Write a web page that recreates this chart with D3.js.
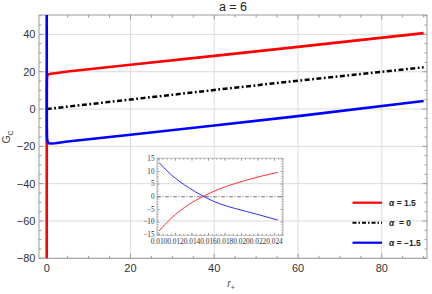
<!DOCTYPE html>
<meta charset="utf-8">
<style>
body { margin: 0; background: #fff; }
text { font-family: "Liberation Sans", Arial, sans-serif; }
.grid line { stroke: #dcdcdc; stroke-width: 1px; }
.frame { fill: none; stroke: #999; stroke-width: 1px; }
.tick line { stroke: #999; stroke-width: 1px; }
.inset text { font-family: "Liberation Serif", "Times New Roman", serif; }
</style>
<svg></svg>
<script src="https://cdn.jsdelivr.net/npm/d3@7"></script>
<script>

// main plot, r+ from 0 to 90
var rMain    = [0.004, 0.006, 0.01, 0.0115, 0.0136, 0.0152, 0.0172, 0.0192, 0.022, 0.0244, 0.05, 0.1, 0.2, 0.5, 1, 2, 5, 10, 20, 40, 60, 90];
var gPlus    = [-85, -40, -13.5, -8.4, -3.1, -0.1, 2.9, 5.2, 7.8, 9.6, 15, 17.2, 18.2, 18.7, 18.9, 19.2, 20.1, 21.3, 23.7, 28.5, 33.3, 40.7];
var gMinus   = [90, 40, 13.5, 8.6, 3.6, 0.5, -2.6, -4.6, -7.0, -9.2, -14, -16.2, -17.5, -18.3, -18.5, -18.3, -17.4, -16.2, -13.8, -8.8, -3.8, 4.3];
var rZero    = [0, 20, 40, 60, 90];
var gZero    = [0, 5.1, 10.2, 15.2, 22.4];

// inset, small r+
var rInset     = [0.010, 0.0115, 0.0136, 0.0152, 0.0172, 0.0192, 0.022, 0.0244];
var gInsetPlus = [-13.5, -8.4, -3.1, -0.1, 2.9, 5.2, 7.8, 9.6];
var gInsetMin  = [13.5, 8.6, 3.6, 0.5, -2.6, -4.6, -7.0, -9.2];
var rInsetZero = [0.00976, 0.02503];
var gInsetZero = [0, 0];

var xTicks = [0, 20, 40, 60, 80];
var yTicks = [-80, -60, -40, -20, 0, 20, 40];
var insetXTicks = [0.010, 0.012, 0.014, 0.016, 0.018, 0.020, 0.022, 0.024];
var insetYTicks = [-15, -10, -5, 0, 5, 10, 15];

var legendLabels = ["1.5", "0", "\u22121.5"];

var width = 432, height = 294;

var svg = d3.select("svg")
    .attr("width", width)
    .attr("height", height);

var x = d3.scaleLinear().domain([-1.84, 90.8]).range([39, 427]);
var y = d3.scaleLinear().domain([-80, 50.4]).range([258.3, 15]);

var defs = svg.append("defs");
defs.append("clipPath").attr("id", "clipMain")
  .append("rect")
    .attr("x", x.range()[0]).attr("y", y.range()[1])
    .attr("width", x.range()[1] - x.range()[0])
    .attr("height", y.range()[0] - y.range()[1]);

// grid
var grid = svg.append("g").attr("class", "grid");
grid.selectAll(".gx").data(xTicks).enter().append("line")
    .attr("x1", function(d) { return x(d); }).attr("x2", function(d) { return x(d); })
    .attr("y1", y.range()[0]).attr("y2", y.range()[1]);
grid.selectAll(".gy").data(yTicks).enter().append("line")
    .attr("y1", function(d) { return y(d); }).attr("y2", function(d) { return y(d); })
    .attr("x1", x.range()[0]).attr("x2", x.range()[1]);

// frame ticks drawn inward on all four sides
function frameTicks(g, xs, ys, majX, minX, majY, minY, len, minLen) {
  var x0 = xs.range()[0], x1 = xs.range()[1], y0 = ys.range()[0], y1 = ys.range()[1];
  var t = g.append("g").attr("class", "tick");
  function xt(vals, l) {
    vals.forEach(function(v) {
      var px = xs(v);
      if (px < x0 - 0.1 || px > x1 + 0.1) return;
      t.append("line").attr("x1", px).attr("x2", px).attr("y1", y0).attr("y2", y0 - l);
      t.append("line").attr("x1", px).attr("x2", px).attr("y1", y1).attr("y2", y1 + l);
    });
  }
  function yt(vals, l) {
    vals.forEach(function(v) {
      var py = ys(v);
      if (py > y0 + 0.1 || py < y1 - 0.1) return;
      t.append("line").attr("y1", py).attr("y2", py).attr("x1", x0).attr("x2", x0 + l);
      t.append("line").attr("y1", py).attr("y2", py).attr("x1", x1).attr("x2", x1 - l);
    });
  }
  xt(majX, len); xt(minX, minLen); yt(majY, len); yt(minY, minLen);
}

frameTicks(svg, x, y, xTicks, d3.range(5, 95, 5).filter(function(d) { return d % 20; }),
    yTicks, d3.range(-75, 55, 5).filter(function(d) { return d % 20; }), 4.5, 2.5);

svg.append("rect").attr("class", "frame")
    .attr("x", x.range()[0]).attr("y", y.range()[1])
    .attr("width", x.range()[1] - x.range()[0])
    .attr("height", y.range()[0] - y.range()[1]);

// tick labels
svg.append("g").selectAll("text").data(xTicks).enter().append("text")
    .attr("x", function(d) { return x(d); })
    .attr("y", 272)
    .attr("text-anchor", "middle")
    .attr("font-size", 11)
    .attr("fill", "#333")
    .text(function(d) { return d; });

svg.append("g").selectAll("text").data(yTicks).enter().append("text")
    .attr("x", 35.5)
    .attr("y", function(d) { return y(d) + 4; })
    .attr("text-anchor", "end")
    .attr("font-size", 11)
    .attr("fill", "#333")
    .text(function(d) { return d < 0 ? "\u2212" + (-d) : d; });

// title and axis labels
svg.append("text").attr("x", 233).attr("y", 11).attr("text-anchor", "middle")
    .attr("font-size", 12.5).attr("fill", "#222").text("a = 6");

var yl = svg.append("text").attr("transform", "translate(10,137) rotate(-90)")
    .attr("text-anchor", "middle").attr("font-size", 10.5).attr("fill", "#444");
yl.append("tspan").text("G");
yl.append("tspan").attr("font-size", 7).attr("dy", 2.5).text("C");

var xl = svg.append("text").attr("x", 231).attr("y", 287).attr("text-anchor", "middle")
    .attr("font-size", 10).attr("fill", "#444");
xl.append("tspan").attr("font-style", "italic").text("r");
xl.append("tspan").attr("font-size", 7).attr("dy", 2.5).text("+");

// main curves
function series(rs, gs) { return rs.map(function(r, i) { return [r, gs[i]]; }); }

var line = d3.line()
    .x(function(d) { return x(d[0]); })
    .y(function(d) { return y(d[1]); });

var curves = svg.append("g").attr("clip-path", "url(#clipMain)");
curves.append("path").datum(series(rZero, gZero))
    .attr("d", line).attr("fill", "none").attr("stroke", "#000")
    .attr("stroke-width", 2.5).attr("stroke-dasharray", "5,2.5,1.8,2.5");
curves.append("path").datum(series(rMain, gPlus))
    .attr("d", line).attr("fill", "none").attr("stroke", "#ff0000").attr("stroke-width", 2.6);
curves.append("path").datum(series(rMain, gMinus))
    .attr("d", line).attr("fill", "none").attr("stroke", "#0000ff").attr("stroke-width", 2.6);

// inset
var ix = d3.scaleLinear().domain([0.00976, 0.02503]).range([157, 283]);
var iy = d3.scaleLinear().domain([-15.2, 15.2]).range([235.3, 158.2]);

var inset = svg.append("g").attr("class", "inset");
frameTicks(inset, ix, iy, insetXTicks, d3.range(0.0100, 0.0251, 0.0005),
    insetYTicks, d3.range(-15, 16, 1), 2.5, 1.5);
inset.append("rect").attr("fill", "none").attr("stroke", "#aaa").attr("stroke-width", 0.8)
    .attr("x", ix.range()[0]).attr("y", iy.range()[1])
    .attr("width", ix.range()[1] - ix.range()[0])
    .attr("height", iy.range()[0] - iy.range()[1]);

inset.selectAll(".lx").data(insetXTicks).enter().append("text")
    .attr("x", function(d) { return ix(d); })
    .attr("y", 244.2)
    .attr("text-anchor", "middle")
    .attr("font-size", 7.4)
    .attr("fill", "#333")
    .text(d3.format(".3f"));

inset.selectAll(".ly").data(insetYTicks).enter().append("text")
    .attr("x", 154.5)
    .attr("y", function(d) { return iy(d) + 2.3; })
    .attr("text-anchor", "end")
    .attr("font-size", 7.2)
    .attr("fill", "#333")
    .text(function(d) { return d < 0 ? "\u2212" + (-d) : d; });

var iline = d3.line().curve(d3.curveMonotoneX)
    .x(function(d) { return ix(d[0]); })
    .y(function(d) { return iy(d[1]); });

inset.append("path").datum(series(rInsetZero, gInsetZero))
    .attr("d", iline).attr("fill", "none").attr("stroke", "#777")
    .attr("stroke-width", 1).attr("stroke-dasharray", "4,1.5,1,1.5");
inset.append("path").datum(series(rInset, gInsetPlus))
    .attr("d", iline).attr("fill", "none").attr("stroke", "#ff3030").attr("stroke-width", 1);
inset.append("path").datum(series(rInset, gInsetMin))
    .attr("d", iline).attr("fill", "none").attr("stroke", "#3030ff").attr("stroke-width", 1);

// legend
var legendColors = ["#ff0000", "#000", "#0000ff"];
var leg = svg.append("g").selectAll("g").data(legendLabels).enter().append("g")
    .attr("transform", function(d, i) { return "translate(0," + (202.7 + i * 20) + ")"; });
leg.append("line")
    .attr("x1", 352.5).attr("x2", 382).attr("y1", 0).attr("y2", 0)
    .attr("stroke", function(d, i) { return legendColors[i]; })
    .attr("stroke-width", function(d, i) { return i == 1 ? 2 : 2.2; })
    .attr("stroke-dasharray", function(d, i) { return i == 1 ? "4,2,1.5,2" : null; });
var lt = leg.append("text")
    .attr("x", 389).attr("y", 3)
    .attr("font-size", 8.5).attr("font-weight", "bold").attr("fill", "#222");
lt.append("tspan").attr("font-style", "italic").text("\u03b1");
lt.append("tspan").text(function(d) { return (d == "0" ? "  = " : " = ") + d; })
    .attr("xml:space", "preserve");

</script>
